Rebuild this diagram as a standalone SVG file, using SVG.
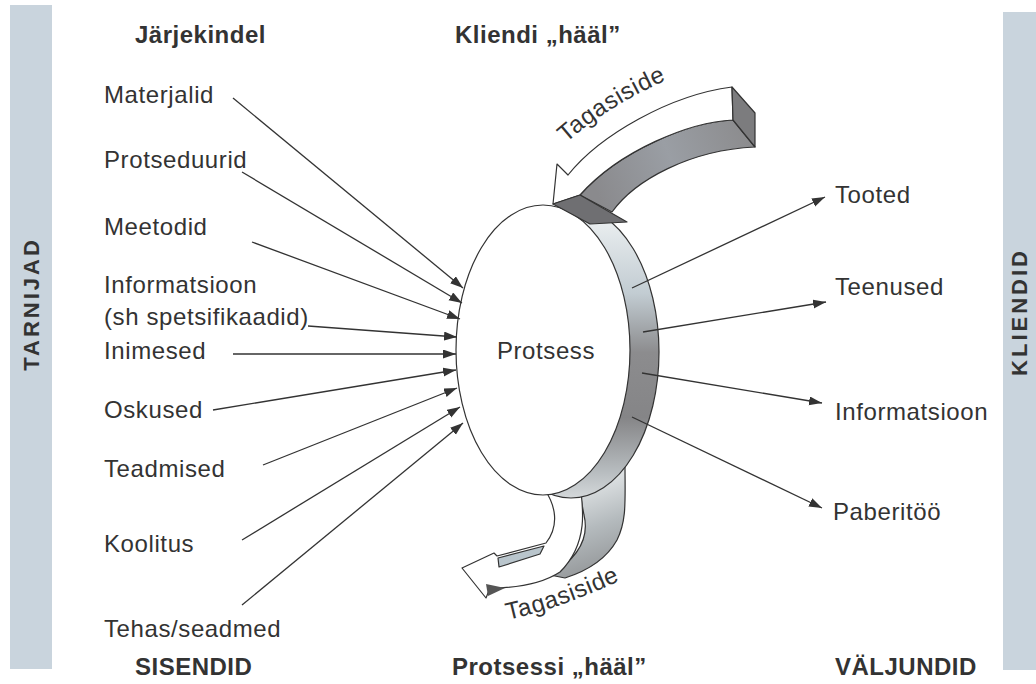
<svg xmlns="http://www.w3.org/2000/svg" width="1036" height="684" viewBox="0 0 1036 684">
<style>
.t{font-family:"Liberation Sans",Arial,sans-serif;font-size:24px;letter-spacing:0.6px;fill:#333}
.h{font-family:"Liberation Sans",Arial,sans-serif;font-size:24px;font-weight:bold;letter-spacing:0.5px;fill:#333}
.v{font-family:"Liberation Sans",Arial,sans-serif;font-size:22px;font-weight:bold;fill:#333;letter-spacing:3px}
.c line{stroke:#333;stroke-width:1.3;marker-end:url(#ah)}
.o{stroke:#333;stroke-width:1.2;stroke-linejoin:round}
</style>
<defs>
<marker id="ah" markerUnits="userSpaceOnUse" markerWidth="14" markerHeight="10" refX="13" refY="4.5" orient="auto">
<path d="M0,0 L13,4.5 L0,9 Z" fill="#333"/>
</marker>
<linearGradient id="rim" x1="0" y1="205" x2="0" y2="500" gradientUnits="userSpaceOnUse">
<stop offset="0" stop-color="#f2f5f6"/>
<stop offset="0.3" stop-color="#c2ccd2"/>
<stop offset="0.5" stop-color="#8c8c8e"/>
<stop offset="0.72" stop-color="#858587"/>
<stop offset="0.9" stop-color="#b6bbbe"/>
<stop offset="1" stop-color="#d6dadc"/>
</linearGradient>
<linearGradient id="side" x1="600" y1="200" x2="750" y2="140" gradientUnits="userSpaceOnUse">
<stop offset="0" stop-color="#8a8a8d"/>
<stop offset="0.5" stop-color="#9a9ea4"/>
<stop offset="1" stop-color="#8c8c8e"/>
</linearGradient>
<linearGradient id="band" x1="580" y1="470" x2="620" y2="580" gradientUnits="userSpaceOnUse">
<stop offset="0" stop-color="#eef1f2"/>
<stop offset="0.5" stop-color="#b4babd"/>
<stop offset="1" stop-color="#8a8c8e"/>
</linearGradient>
</defs>

<g id="tarnijad">
<rect x="10" y="5" width="42" height="664" fill="#c9d4dd"/>
<text class="v" transform="translate(39,304) rotate(-90)" text-anchor="middle">TARNIJAD</text>
</g>
<g id="kliendid">
<rect x="1003" y="12" width="33" height="658" fill="#c9d4dd"/>
<text class="v" transform="translate(1027,312) rotate(-90)" text-anchor="middle">KLIENDID</text>
</g>

<g id="headers">
<text class="h" x="135" y="43">Järjekindel</text>
<text class="h" x="455" y="43">Kliendi „hääl”</text>
<text class="h" x="135" y="675">SISENDID</text>
<text class="h" x="452" y="675" letter-spacing="0">Protsessi „hääl”</text>
<text class="h" x="835" y="675" letter-spacing="0">VÄLJUNDID</text>
</g>

<g id="feedback-bottom">
<path class="o" d="M578,470 L625,465 C625,500 627,520 617,540 C607,558 590,570 565,578 L550,575 C575,560 590,540 584,515 C582,505 580,495 578,470 Z" fill="url(#band)"/>
<path class="o" d="M540,470 L578,470 C582,500 592,540 560,572 C540,585 510,588 490,588 L486,598 L462,568 L494,553 L497,556 L546,543 C560,525 555,505 545,490 Z" fill="#fff"/>
<path class="o" d="M498,558 L544,546 L540,554 L499,567 Z" fill="#b9c5cc"/>
<path d="M486,584 L505,588 L488,596 Z" fill="#555"/>
<path id="tb" d="M508,620 Q565,607 630,576" fill="none"/>
<text class="t" font-size="23" letter-spacing="1"><textPath href="#tb">Tagasiside</textPath></text>
</g>

<g id="protsess">
<ellipse class="o" cx="571" cy="352" rx="88" ry="146" fill="url(#rim)"/>
<ellipse class="o" cx="543" cy="350" rx="87" ry="145" fill="#fff"/>
<text class="t" x="546" y="359" text-anchor="middle" font-size="25">Protsess</text>
</g>

<g id="feedback-top">
<path class="o" d="M733,120 C690,122 620,150 580,195 L612,212 C635,180 690,150 755,147 Z" fill="url(#side)"/>
<path class="o" d="M553,204 L557,164 L568,175 C600,135 670,95 732,87 L733,120 C690,122 620,150 580,195 Z" fill="#fff"/>
<path class="o" d="M732,87 L755,113 L755,147 L733,120 Z" fill="#7c7c7e"/>
<path class="o" d="M553,204 L580,195 L627,222 L590,224 Z" fill="#6f6f72"/>
<path id="tt" d="M566,143 Q615,100 686,72" fill="none"/>
<text class="t" font-size="23" letter-spacing="1"><textPath href="#tt">Tagasiside</textPath></text>
</g>

<g id="inputs">
<text class="t" x="104" y="103">Materjalid</text>
<text class="t" x="104" y="168">Protseduurid</text>
<text class="t" x="104" y="235">Meetodid</text>
<text class="t" x="104" y="293">Informatsioon</text>
<text class="t" x="104" y="325">(sh spetsifikaadid)</text>
<text class="t" x="104" y="359">Inimesed</text>
<text class="t" x="104" y="418">Oskused</text>
<text class="t" x="104" y="477">Teadmised</text>
<text class="t" x="104" y="552">Koolitus</text>
<text class="t" x="104" y="637">Tehas/seadmed</text>
</g>

<g id="outputs">
<text class="t" x="835" y="203">Tooted</text>
<text class="t" x="835" y="295">Teenused</text>
<text class="t" x="835" y="420">Informatsioon</text>
<text class="t" x="833" y="520">Paberitöö</text>
</g>

<g id="connectors" class="c">
<line x1="233" y1="98" x2="463" y2="288"/>
<line x1="242" y1="172" x2="462" y2="303"/>
<line x1="252" y1="242" x2="460" y2="319"/>
<line x1="308" y1="326" x2="457" y2="337"/>
<line x1="233" y1="354" x2="456" y2="354"/>
<line x1="213" y1="410" x2="456" y2="370"/>
<line x1="263" y1="465" x2="457" y2="388"/>
<line x1="242" y1="540" x2="460" y2="407"/>
<line x1="242" y1="605" x2="463" y2="423"/>
<line x1="632" y1="288" x2="825" y2="197"/>
<line x1="643" y1="332" x2="826" y2="302"/>
<line x1="642" y1="373" x2="822" y2="403"/>
<line x1="632" y1="417" x2="822" y2="508"/>
</g>
</svg>
